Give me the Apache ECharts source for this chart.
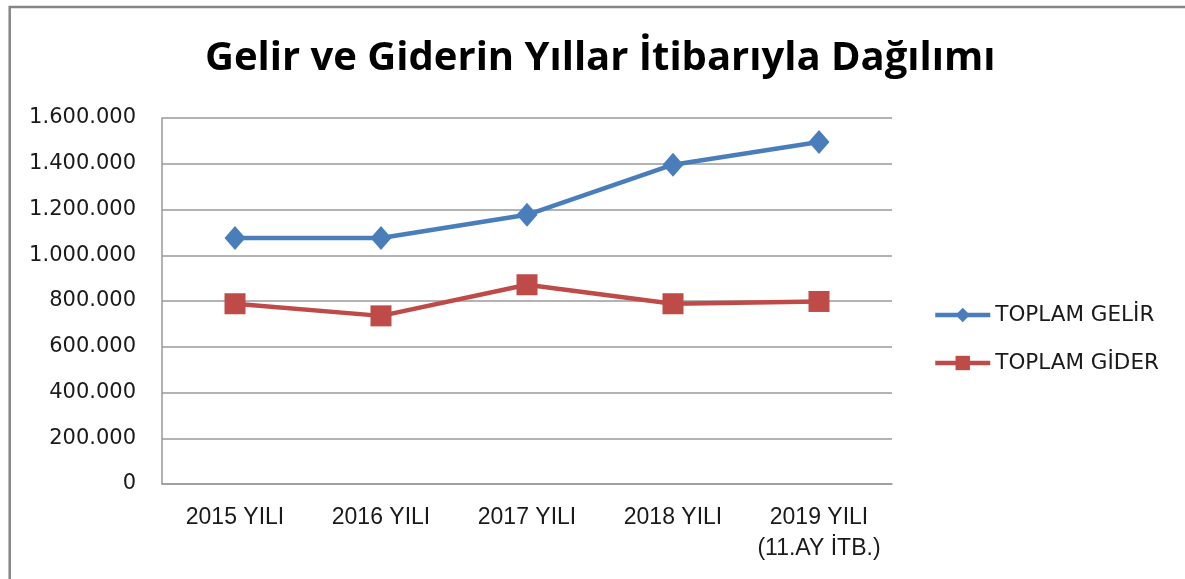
<!DOCTYPE html>
<html>
<head>
<meta charset="utf-8">
<script src="https://cdn.jsdelivr.net/npm/echarts@6/dist/echarts.min.js"></script>
<style>
html,body{margin:0;padding:0;background:#fff;}
#chart{width:1185px;height:579px;}
</style>
</head>
<body>
<div id="chart"></div>
<script>
const titleText = 'Gelir ve Giderin Yıllar İtibarıyla Dağılımı';
const categories = ['2015 YILI', '2016 YILI', '2017 YILI', '2018 YILI', '2019 YILI\n(11.AY İTB.)'];
const seriesNames = ['TOPLAM GELİR', 'TOPLAM GİDER'];
const gelir = [1075000, 1075000, 1177000, 1396000, 1495000];
const gider = [788000, 735000, 871000, 788000, 798000];
const yMin = 0, yMax = 1600000, yStep = 200000;

function fmt(v) {
  return String(Math.round(v)).replace(/\B(?=(\d{3})+(?!\d))/g, '.');
}

const chart = echarts.init(document.getElementById('chart'), null, {renderer: 'canvas'});
chart.setOption({
  backgroundColor: '#ffffff',
  animation: false,
  graphic: [{
    type: 'rect', silent: true, z: -1,
    shape: {x: 9.7, y: 7, width: 1300, height: 700},
    style: {fill: 'none', stroke: '#868686', lineWidth: 2.5}
  }],
  title: {
    text: titleText,
    left: 200,
    top: 34,
    textStyle: {fontFamily: 'Open Sans', fontWeight: 'bold', fontSize: 40, color: '#000'}
  },
  grid: {left: 162, right: 293, top: 118, bottom: 95, containLabel: false},
  legend: {
    orient: 'vertical',
    left: 928,
    top: 299,
    itemWidth: 55,
    itemHeight: 18,
    itemGap: 26,
    lineStyle: {width: 4.5},
    textStyle: {fontFamily: 'DejaVu Sans', fontSize: 21.5, color: '#1a1a1a', lineHeight: 22},
    data: seriesNames
  },
  xAxis: {
    type: 'category',
    data: categories,
    boundaryGap: true,
    axisLine: {show: true, lineStyle: {color: '#9a9a9a', width: 1.5}},
    axisTick: {show: false},
    axisLabel: {fontFamily: 'Liberation Sans', fontSize: 23, color: '#1a1a1a', margin: 18, lineHeight: 31, interval: 0}
  },
  yAxis: {
    type: 'value',
    min: yMin, max: yMax, interval: yStep,
    axisLine: {show: true, lineStyle: {color: '#9a9a9a', width: 1.5}},
    axisTick: {show: false},
    splitLine: {show: true, lineStyle: {color: '#9a9a9a', width: 1.5}},
    axisLabel: {fontFamily: 'DejaVu Sans', fontSize: 21, color: '#1a1a1a', margin: 26, formatter: fmt}
  },
  series: [
    {
      name: seriesNames[0], type: 'line', data: gelir,
      symbol: 'diamond', symbolSize: [21, 24],
      lineStyle: {color: '#4a7ebb', width: 4.5},
      itemStyle: {color: '#4a7ebb'}
    },
    {
      name: seriesNames[1], type: 'line', data: gider,
      symbol: 'rect', symbolSize: 21,
      lineStyle: {color: '#be4b48', width: 4.5},
      itemStyle: {color: '#be4b48'}
    }
  ]
});
</script>
</body>
</html>
